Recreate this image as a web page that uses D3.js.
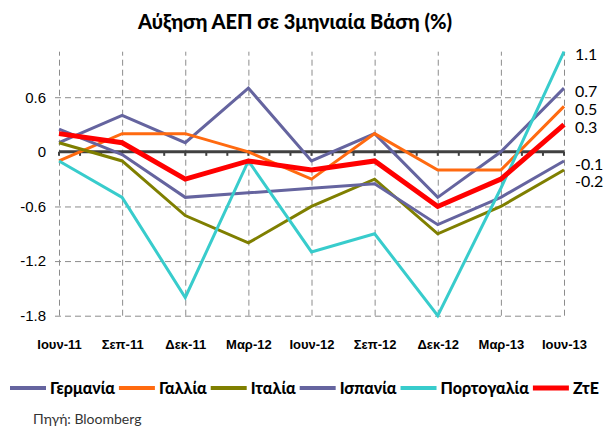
<!DOCTYPE html>
<html>
<head>
<meta charset="utf-8">
<script src="https://cdn.jsdelivr.net/npm/d3@7"></script>
<style>
  body { margin: 0; background: #fff; }
  svg { display: block; font-family: Lato, "Open Sans", sans-serif; }
  .grid line { stroke: #8c8c8c; stroke-dasharray: 6,4; }
</style>
</head>
<body>
<svg width="608" height="427"></svg>
<script>
// quarterly GDP growth (%)
var categories = ["Ιουν-11", "Σεπ-11", "Δεκ-11", "Μαρ-12", "Ιουν-12", "Σεπ-12", "Δεκ-12", "Μαρ-13", "Ιουν-13"];
var germany  = [0.1, 0.4, 0.1, 0.7, -0.1, 0.2, -0.5, 0, 0.7];
var france   = [-0.1, 0.2, 0.2, 0, -0.3, 0.2, -0.2, -0.2, 0.5];
var italy    = [0.1, -0.1, -0.7, -1.0, -0.6, -0.3, -0.9, -0.6, -0.2];
var spain    = [0.25, -0.03, -0.5, -0.45, -0.4, -0.35, -0.8, -0.5, -0.1];
var portugal = [-0.1, -0.5, -1.6, -0.1, -1.1, -0.9, -1.8, -0.4, 1.1];
var eurozone = [0.2, 0.1, -0.3, -0.1, -0.2, -0.1, -0.6, -0.3, 0.3];
var seriesNames = ["Γερμανία", "Γαλλία", "Ιταλία", "Ισπανία", "Πορτογαλία", "ΖτΕ"];
var yTicks = [-1.8, -1.2, -0.6, 0, 0.6];

var series = [
  { name: seriesNames[0], values: germany,  color: "#65649f", width: 3 },
  { name: seriesNames[1], values: france,   color: "#ff6a10", width: 3 },
  { name: seriesNames[2], values: italy,    color: "#7f7f00", width: 3 },
  { name: seriesNames[3], values: spain,    color: "#65649f", width: 3 },
  { name: seriesNames[4], values: portugal, color: "#38cccc", width: 3 },
  { name: seriesNames[5], values: eurozone, color: "#ff0000", width: 5 }
];

var svg = d3.select("svg");
var x0 = 59, x1 = 564;

var x = d3.scalePoint().domain(categories).range([x0, x1]);
var y = d3.scaleLinear().domain([-1.8, 1.1]).range([315.7, 51.7]);

svg.append("text")
   .attr("x", 295).attr("y", 29)
   .attr("text-anchor", "middle")
   .attr("font-size", "20px").attr("font-weight", 900)
   .text("Αύξηση ΑΕΠ σε 3μηνιαία Βάση (%)");

// horizontal grid + y labels
var gy = svg.append("g")
   .attr("class", "grid")
   .attr("transform", "translate(" + x0 + ",0)")
   .call(d3.axisLeft(y).tickValues(yTicks).tickSize(-(x1 - x0)).tickPadding(13)
         .tickFormat(function(d) { return String(d); }));
gy.select(".domain").remove();
gy.selectAll(".tick line").attr("x1", -4);
gy.selectAll(".tick").filter(function(d) { return d === 0; }).select("line").remove();
gy.selectAll(".tick text").attr("font-size", "15px").attr("font-family", null).attr("fill", "#000");

// vertical grid + category labels
var gx = svg.append("g")
   .attr("class", "grid")
   .attr("transform", "translate(0," + y(-1.8) + ")")
   .call(d3.axisBottom(x).tickSize(-(y(-1.8) - y(1.1))).tickPadding(24));
gx.select(".domain").remove();
gx.selectAll(".tick text").attr("font-size", "13px").attr("font-weight", 900)
   .attr("font-family", null).attr("fill", "#000");

// zero line with monthly ticks
var months = d3.range(0, (categories.length - 1) * 3 + 1).map(function(i) {
  return x0 + i * x.step() / 3;
});
svg.append("g").selectAll("line")
   .data(months).enter()
   .append("line")
   .attr("x1", function(d) { return d; }).attr("x2", function(d) { return d; })
   .attr("y1", y(0)).attr("y2", y(0) + 4)
   .attr("stroke", "#404040").attr("stroke-width", 2);
svg.append("line")
   .attr("x1", x0).attr("x2", x1)
   .attr("y1", y(0)).attr("y2", y(0))
   .attr("stroke", "#404040").attr("stroke-width", 3);

var line = d3.line()
   .x(function(d, i) { return x(categories[i]); })
   .y(function(d) { return y(d); });

svg.append("g").selectAll("path")
   .data(series).enter()
   .append("path")
   .attr("d", function(d) { return line(d.values); })
   .attr("fill", "none")
   .attr("stroke", function(d) { return d.color; })
   .attr("stroke-width", function(d) { return d.width; })
   .attr("stroke-linejoin", "miter");

// end-of-line value labels, pushed apart so they don't overlap
var ends = series.map(function(s) { return s.values[s.values.length - 1]; })
   .sort(function(a, b) { return b - a; });
var lastY = -Infinity;
ends.forEach(function(v) {
  var cy = Math.max(y(v) + 3, lastY + 17.5);
  lastY = cy;
  svg.append("text")
     .attr("x", 575).attr("y", cy).attr("dy", "0.35em")
     .attr("font-size", "16px")
     .text(String(v));
});

// legend
var lx = 10, ly = 388;
series.forEach(function(s) {
  svg.append("line")
     .attr("x1", lx).attr("x2", lx + 36)
     .attr("y1", ly).attr("y2", ly)
     .attr("stroke", s.color).attr("stroke-width", s.width === 5 ? 5 : 4);
  var t = svg.append("text")
     .attr("x", lx + 40).attr("y", ly).attr("dy", "0.35em")
     .attr("font-size", "16px").attr("font-weight", 900)
     .text(s.name);
  lx += 40 + t.node().getComputedTextLength() + 4;
});

svg.append("text")
   .attr("x", 33).attr("y", 424)
   .attr("font-size", "14px").attr("fill", "#333")
   .text("Πηγή: Bloomberg");
</script>
</body>
</html>
